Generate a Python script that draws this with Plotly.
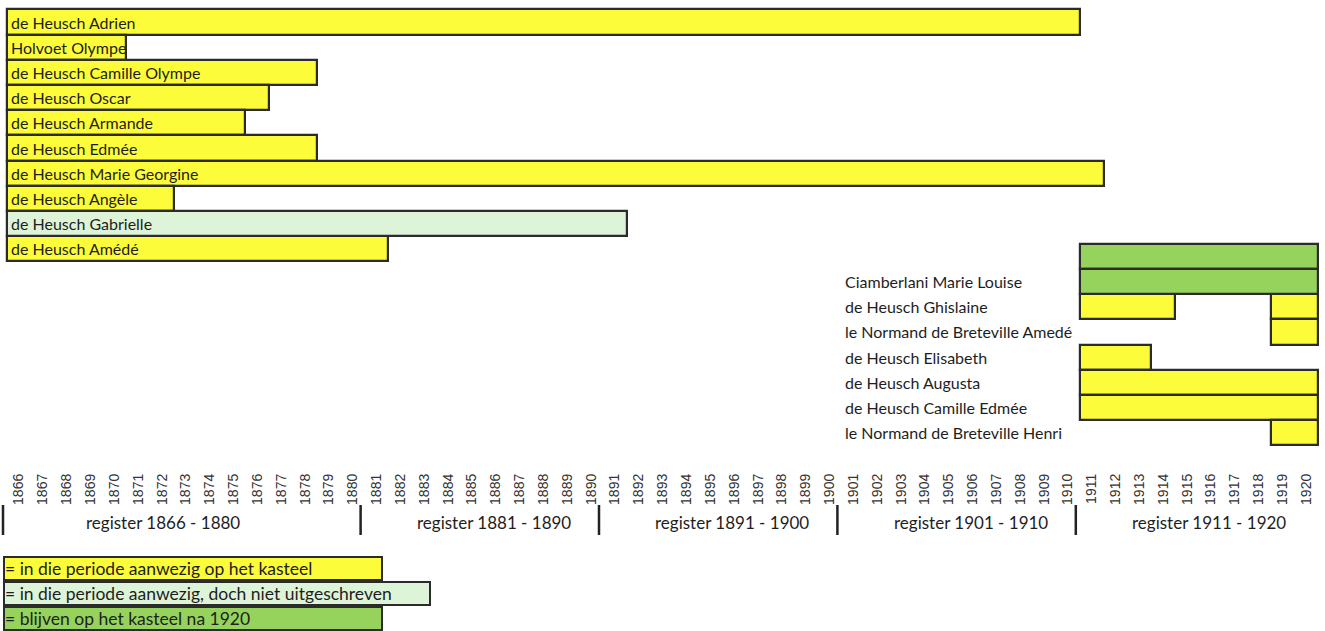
import plotly.graph_objects as go

# ---------------- data ----------------
left_names = ["de Heusch Adrien", "Holvoet Olympe", "de Heusch Camille Olympe",
              "de Heusch Oscar", "de Heusch Armande", "de Heusch Edmée",
              "de Heusch Marie Georgine", "de Heusch Angèle", "de Heusch Gabrielle",
              "de Heusch Amédé"]
left_start = [1866, 1866, 1866, 1866, 1866, 1866, 1866, 1866, 1866, 1866]
left_end = [1910, 1870, 1878, 1876, 1875, 1878, 1911, 1872, 1891, 1881]
left_status = ["present", "present", "present", "present", "present", "present",
               "present", "present", "not_written", "present"]

right_names = ["", "Ciamberlani Marie Louise", "de Heusch Ghislaine",
               "le Normand de Breteville Amedé", "de Heusch Elisabeth",
               "de Heusch Augusta", "de Heusch Camille Edmée",
               "le Normand de Breteville Henri"]
seg_row = [0, 1, 2, 2, 3, 4, 5, 6, 7]
seg_start = [1911, 1911, 1911, 1919, 1919, 1911, 1911, 1911, 1919]
seg_end = [1920, 1920, 1914, 1920, 1920, 1913, 1920, 1920, 1920]
seg_status = ["stays", "stays", "present", "present", "present", "present",
              "present", "present", "present"]

years = list(range(1866, 1921))
registers = ["register 1866 - 1880", "register 1881 - 1890", "register 1891 - 1900",
             "register 1901 - 1910", "register 1911 - 1920"]
register_start = [1866, 1881, 1891, 1901, 1911]
register_end = [1880, 1890, 1900, 1910, 1920]

legend_status = ["present", "not_written", "stays"]
legend_text = ["= in die periode aanwezig op het kasteel",
               "= in die periode aanwezig, doch niet uitgeschreven",
               "= blijven op het kasteel na 1920"]

# ---------------- styling ----------------
W, H = 1325, 631
colors = {"present": "#FCFC3A", "not_written": "#DDF4D8", "stays": "#95D35C"}
edge = "#2b2b2b"
FONT = "Lato"
TXT = "#1e1e1e"

px_per_year = 23.84
x0_px = 7            # pixel of 1865.5
row_px = 25.2
row0_px = 22
right_offset = 9.3   # right block starts at this row

def x_at_px(p):
    return 1865.5 + (p - x0_px) / px_per_year

def row_at_px(p):
    return (p - row0_px) / row_px

fig = go.Figure()

# left block bars
for status in colors:
    idx = [i for i, s in enumerate(left_status) if s == status]
    if not idx:
        continue
    fig.add_trace(go.Bar(
        orientation="h",
        y=[i for i in idx],
        base=[left_start[i] - 0.5 for i in idx],
        x=[left_end[i] - left_start[i] + 1 for i in idx],
        width=1.0,
        marker=dict(color=colors[status], line=dict(color=edge, width=2.2)),
        showlegend=False, hoverinfo="skip"))

# right block bars
for status in colors:
    idx = [i for i, s in enumerate(seg_status) if s == status]
    if not idx:
        continue
    fig.add_trace(go.Bar(
        orientation="h",
        y=[right_offset + seg_row[i] for i in idx],
        base=[seg_start[i] - 0.5 for i in idx],
        x=[seg_end[i] - seg_start[i] + 1 for i in idx],
        width=1.0,
        marker=dict(color=colors[status], line=dict(color=edge, width=2.2)),
        showlegend=False, hoverinfo="skip"))

annotations = []
# left labels inside bars
for i, name in enumerate(left_names):
    annotations.append(dict(x=left_start[i] - 0.5, y=i, xref="x", yref="y",
                            text=name, showarrow=False, xanchor="left",
                            yanchor="middle", xshift=2,
                            font=dict(family=FONT, size=16, color=TXT)))
# right labels to the left
for j, name in enumerate(right_names):
    if not name:
        continue
    annotations.append(dict(x=843 / W, y=right_offset + j, xref="paper", yref="y",
                            text=name, showarrow=False, xanchor="left",
                            yanchor="middle",
                            font=dict(family=FONT, size=16, color=TXT)))

# register labels & separators
reg_shift = [-23, 10, 10, 10, 10]
sep_off = -4 / px_per_year
shapes = []
for k, lab in enumerate(registers):
    mid = (register_start[k] + register_end[k]) / 2
    annotations.append(dict(x=mid, y=1 - 522 / H, xref="x", yref="paper",
                            text=lab, showarrow=False, xanchor="center",
                            yanchor="middle", xshift=reg_shift[k],
                            font=dict(family=FONT, size=17, color=TXT)))
    xs = register_start[k] - 0.5 + sep_off
    shapes.append(dict(type="line", xref="x", yref="paper",
                       x0=xs, x1=xs,
                       y0=1 - 505 / H, y1=1 - 535 / H,
                       line=dict(color="#222222", width=2.5)))

# legend boxes
legend_w = [376, 424, 376]
legend_top = [556, 581, 606]
for k, t in enumerate(legend_text):
    annotations.append(dict(x=3 / W, y=1 - legend_top[k] / H, xref="paper", yref="paper",
                            text=t, showarrow=False, xanchor="left", yanchor="top",
                            align="left", width=legend_w[k], height=21,
                            bgcolor=colors[legend_status[k]], bordercolor=edge,
                            borderwidth=2, borderpad=0,
                            font=dict(family=FONT, size=17.5, color=TXT)))

fig.update_layout(
    width=W, height=H, margin=dict(l=0, r=0, t=0, b=0),
    paper_bgcolor="white", plot_bgcolor="white",
    barmode="overlay", bargap=0,
    annotations=annotations, shapes=shapes,
    xaxis=dict(range=[x_at_px(0), x_at_px(W)], tickvals=years,
               ticktext=[str(y) for y in years], tickangle=-90,
               tickfont=dict(family="Liberation Sans", size=14, color="#333333"),
               showgrid=False, zeroline=False, showline=False, ticks="",
               anchor="free", position=1 - 470 / H, fixedrange=True),
    yaxis=dict(range=[row_at_px(H), row_at_px(0)], visible=False,
               showgrid=False, zeroline=False, fixedrange=True),
    showlegend=False,
)

fig.write_html("out.html", config={"displayModeBar": False},
               post_script="document.body.style.margin='0';")
